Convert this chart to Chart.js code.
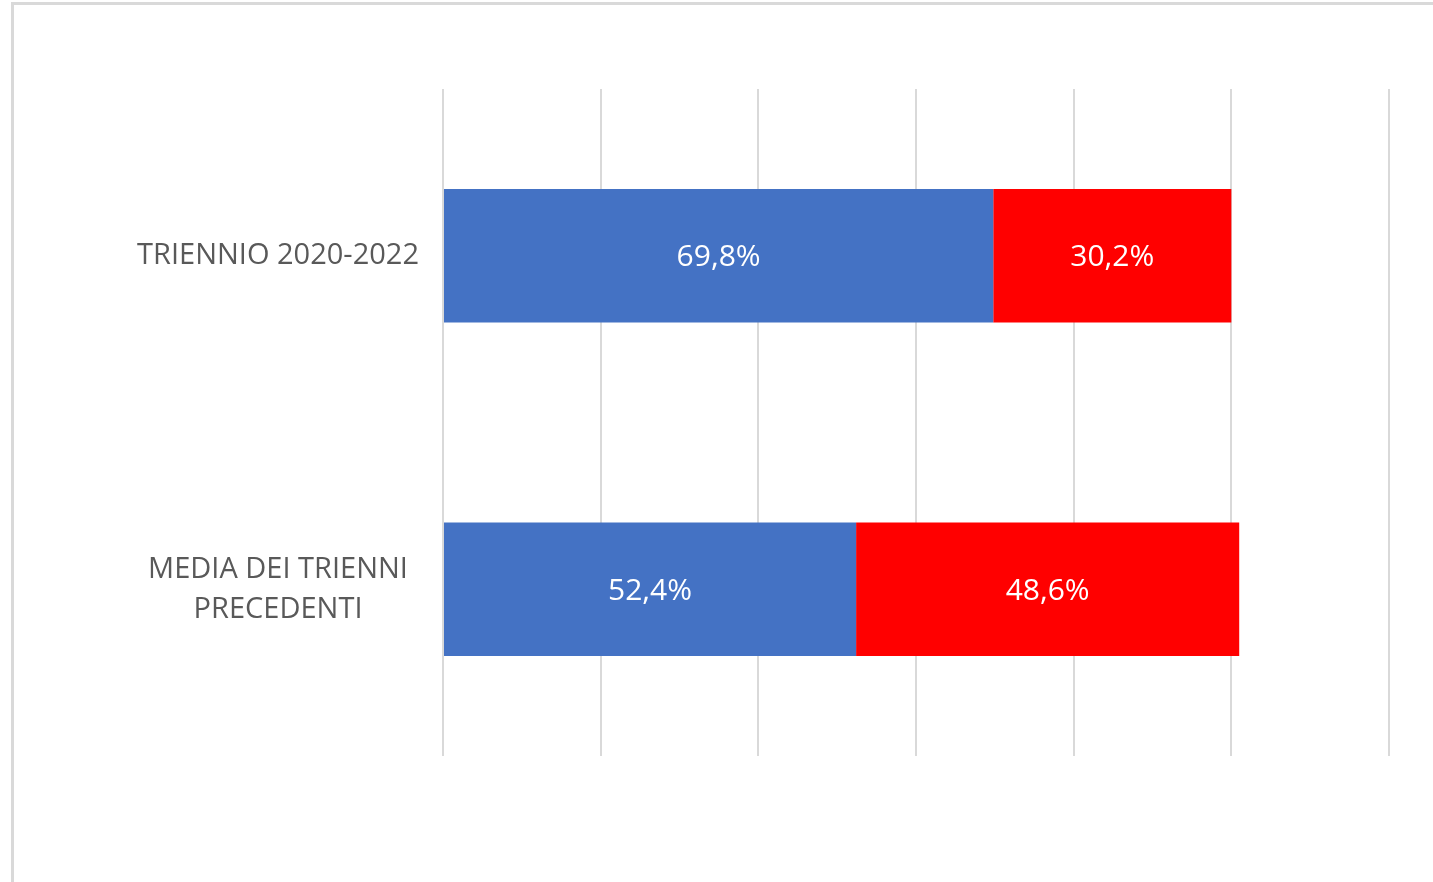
<!DOCTYPE html>
<html>
<head>
<meta charset="utf-8">
<script src="https://cdn.jsdelivr.net/npm/chart.js@4.4.0/dist/chart.umd.min.js"></script>
<style>
  html, body { margin: 0; padding: 0; background: #ffffff; overflow: hidden; }
  #frame { position: absolute; left: 11px; top: 2px; width: 1500px; height: 1000px;
           border-top: 3px solid #d9d9d9; border-left: 3px solid #d9d9d9; box-sizing: border-box; }
  #wrap { position: absolute; left: 0; top: 0; width: 1433px; height: 882px; }
</style>
</head>
<body>
<div id="frame"></div>
<div id="wrap"><canvas id="c"></canvas></div>
<script>
const categories = [["TRIENNIO 2020-2022"], ["MEDIA DEI TRIENNI", "PRECEDENTI"]];
const seriesBlue = [69.8, 52.4];
const seriesRed = [30.2, 48.6];
const axisMin = 0;
const axisMax = 120;
const axisStep = 20;

const FONT = "'Open Sans', sans-serif";

const barLabels = {
  id: 'barLabels',
  afterDatasetsDraw(chart) {
    const ctx = chart.ctx;
    ctx.save();
    ctx.fillStyle = '#ffffff';
    ctx.font = '30px ' + FONT;
    ctx.textAlign = 'center';
    ctx.textBaseline = 'middle';
    chart.data.datasets.forEach((ds, di) => {
      const meta = chart.getDatasetMeta(di);
      meta.data.forEach((el, i) => {
        const v = ds.data[i];
        const cx = (el.x + el.base) / 2;
        ctx.fillText(v.toFixed(1).replace('.', ',') + '%', cx, el.y + 2);
      });
    });
    ctx.restore();
  }
};

new Chart(document.getElementById('c'), {
  type: 'bar',
  data: {
    labels: categories,
    datasets: [
      { label: 'A', data: seriesBlue, backgroundColor: '#4472C4', borderWidth: 0,
        categoryPercentage: 1, barPercentage: 0.4 },
      { label: 'B', data: seriesRed, backgroundColor: '#FF0000', borderWidth: 0,
        categoryPercentage: 1, barPercentage: 0.4 }
    ]
  },
  options: {
    indexAxis: 'y',
    responsive: true,
    maintainAspectRatio: false,
    animation: false,
    devicePixelRatio: 1,
    layout: { padding: { top: 89, bottom: 126, right: 44, left: 0 } },
    plugins: { legend: { display: false }, tooltip: { enabled: false } },
    scales: {
      x: {
        stacked: true,
        min: axisMin, max: axisMax,
        ticks: { display: false, stepSize: axisStep },
        grid: { color: '#d9d9d9', lineWidth: 2, drawTicks: false },
        border: { display: false }
      },
      y: {
        stacked: true,
        ticks: { color: '#595959', font: { family: FONT, size: 29, lineHeight: 1.38 }, crossAlign: 'center', padding: 24 },
        grid: { display: false, drawTicks: false },
        border: { display: false },
        afterFit(scale) { scale.width = 443; }
      }
    }
  },
  plugins: [barLabels]
});
</script>
</body>
</html>
